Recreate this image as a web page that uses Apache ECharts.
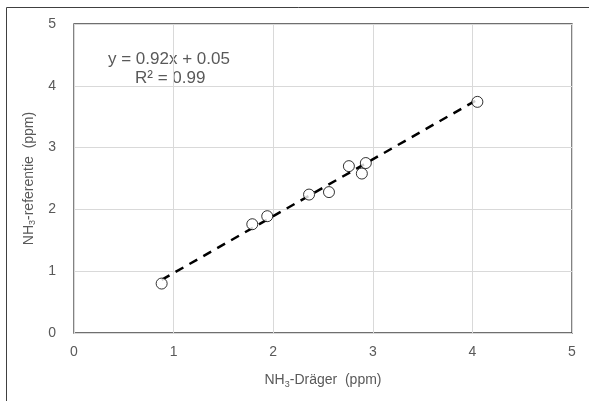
<!DOCTYPE html>
<html><head><meta charset="utf-8">
<script src="https://cdn.jsdelivr.net/npm/echarts@6/dist/echarts.min.js"></script>
<style>html,body{margin:0;padding:0;background:#fff}#c{width:589px;height:401px}</style>
</head><body><div id="c"></div>
<script>
const xValues = [0.88, 1.79, 1.94, 2.36, 2.56, 2.76, 2.89, 2.93, 4.05];
const yValues = [0.80, 1.76, 1.89, 2.24, 2.28, 2.70, 2.58, 2.75, 3.74];
const slope = 0.92;
const intercept = 0.05;
const equationText = 'y = 0.92x + 0.05';
const r2Text = 'R² = 0.99';
const xTicks = [0, 1, 2, 3, 4, 5];
const yTicks = [0, 1, 2, 3, 4, 5];

const points = xValues.map((x, i) => [x, yValues[i]]);
const xmin = Math.min(...xValues), xmax = Math.max(...xValues);
const trend = [[xmin, slope * xmin + intercept], [xmax, slope * xmax + intercept]];

const font = 'Liberation Sans, Arial, sans-serif';
const txt = '#595959';
const chart = echarts.init(document.getElementById('c'), null, {renderer: 'canvas'});
chart.setOption({
  animation: false,
  textStyle: {fontFamily: font},
  grid: {left: 74, right: 17, top: 24, bottom: 68, show: true, borderColor: '#404040', borderWidth: 1.3, backgroundColor: 'transparent'},
  xAxis: {
    type: 'value', min: xTicks[0], max: xTicks[xTicks.length - 1], interval: 1,
    axisLine: {show: false}, axisTick: {show: false},
    splitLine: {show: true, lineStyle: {color: '#d9d9d9', width: 1}},
    axisLabel: {color: txt, fontSize: 14, margin: 12, fontFamily: font},
    name: '{n|NH}{s|3}{n|-Dräger  (ppm)}', nameLocation: 'middle', nameGap: 39,
    nameTextStyle: {rich: {n: {fontSize: 14, color: txt, fontFamily: font}, s: {fontSize: 9, color: txt, fontFamily: font, verticalAlign: 'bottom', padding: [8, 0, 0, 0]}}}
  },
  yAxis: {
    type: 'value', min: yTicks[0], max: yTicks[yTicks.length - 1], interval: 1,
    axisLine: {show: false}, axisTick: {show: false},
    splitLine: {show: true, lineStyle: {color: '#d9d9d9', width: 1}},
    axisLabel: {color: txt, fontSize: 14, margin: 18, fontFamily: font},
    name: '{n|NH}{s|3}{n|-referentie  (ppm)}', nameLocation: 'middle', nameGap: 26,
    nameTextStyle: {rich: {n: {fontSize: 14, color: txt, fontFamily: font}, s: {fontSize: 9, color: txt, fontFamily: font, verticalAlign: 'bottom', padding: [8, 0, 0, 0]}}}
  },
  series: [
    {type: 'line', data: trend, symbol: 'none', lineStyle: {color: '#000', width: 2.5, type: [9, 7]}, z: 2},
    {type: 'scatter', data: points, symbol: 'circle', symbolSize: 11,
     itemStyle: {color: '#fff', borderColor: '#000', borderWidth: 1}, z: 3}
  ],
  graphic: [
    {type: 'rect', shape: {x: 6.5, y: 7.5, width: 600, height: 420}, style: {fill: 'none', stroke: '#404040', lineWidth: 1}, silent: true},
    {type: 'text', left: 108, top: 51, style: {text: equationText, fill: txt, font: '17px ' + font}},
    {type: 'text', left: 135, top: 70, style: {text: r2Text, fill: txt, font: '17px ' + font}}
  ]
});
</script></body></html>
